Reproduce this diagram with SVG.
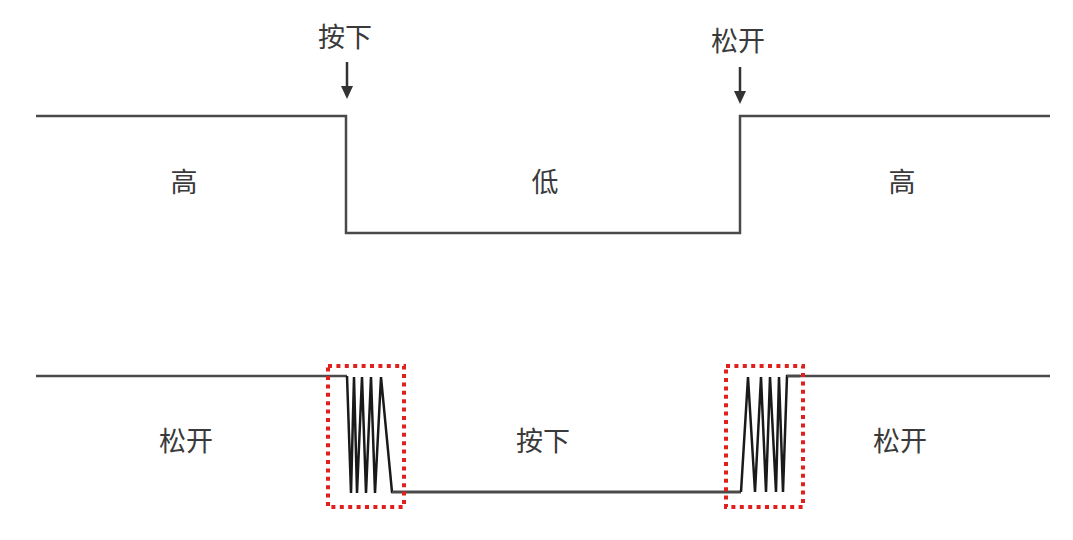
<svg xmlns="http://www.w3.org/2000/svg" width="1073" height="540" viewBox="0 0 1073 540">
<style>
.t{font-family:"Liberation Sans","Noto Sans CJK SC",sans-serif;font-size:27px;fill:#3a3a3a;text-anchor:middle;dominant-baseline:central}
.w{fill:none;stroke:#4a4a4a;stroke-width:2.5;stroke-linejoin:miter}
.z{fill:none;stroke:#1a1a1a;stroke-width:2.5}
.box{fill:none;stroke:#e0201c;stroke-width:4;stroke-dasharray:4 4.4}
.ar{stroke:#333;stroke-width:2.5}
</style>
<rect width="1073" height="540" fill="#fff"/>
<g id="connectors">
<path class="w" d="M36,116 H346 V233 H740 V116 H1050"/>
<line class="ar" x1="347" y1="62" x2="347" y2="90"/>
<path d="M341,86 L353,86 L347,99 Z" fill="#333"/>
<line class="ar" x1="740" y1="67" x2="740" y2="95"/>
<path d="M734,91 L746,91 L740,104 Z" fill="#333"/>
<path class="w" d="M36,376 H347"/>
<path class="z" d="M347,376 L351,493 L354,377 L357,493 L362,377 L366,493 L371,377 L375,493 L381,377 L392,492 H741"/>
<path class="w" d="M392,492 H741"/>
<path class="z" d="M741,492 L748,377 L755,492 L761,377 L766,492 L770,377 L776,492 L779,377 L783,492 L787,376 H800"/>
<path class="w" d="M787,376 H1050"/>
</g>
<g id="box1"><rect class="box" x="328" y="366" width="76" height="141"/></g>
<g id="box2"><rect class="box" x="726" y="366" width="77" height="141"/></g>
<g id="labels">
<text class="t" x="345" y="38">按下</text>
<text class="t" x="738" y="42">松开</text>
<text class="t" x="184" y="183">高</text>
<text class="t" x="545" y="183">低</text>
<text class="t" x="902" y="183">高</text>
<text class="t" x="186" y="442">松开</text>
<text class="t" x="543" y="442">按下</text>
<text class="t" x="900" y="442">松开</text>
</g>
</svg>
